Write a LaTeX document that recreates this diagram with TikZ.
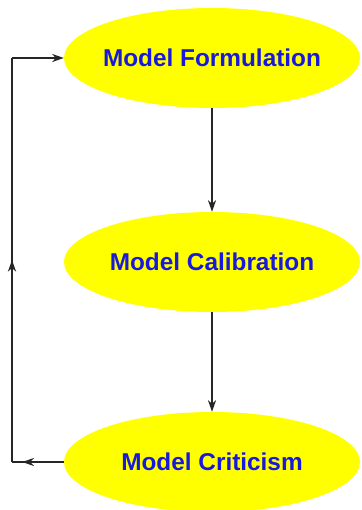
\documentclass[tikz,border=0pt]{standalone}
\usepackage{fontspec}
\setmainfont{Liberation Sans}
\usepackage{xcolor}
\usetikzlibrary{arrows.meta, shapes.geometric, decorations.markings}

\definecolor{stageyellow}{RGB}{255,255,0}
\definecolor{stageblue}{RGB}{25,25,220}

\tikzset{
  stage/.style={ellipse, fill=stageyellow, draw=none, minimum width=296\unitpx, minimum height=100\unitpx,
    inner sep=0pt, label={[stagetext]center:#1}},
  stagetext/.style={text=stageblue, font=\fontsize{20.8}{24}\selectfont\bfseries},
  flow/.style={line width=1.2pt, draw=black!85},
  tip/.style={-{Stealth[length=10pt,width=7pt]}},
  marktip/.style={postaction={decorate}, decoration={markings,
    mark=at position #1 with {\arrow{Stealth[length=10pt,width=7pt]}}}}
}
\newcommand{\unitpx}{*0.03cm}

\begin{document}
\begin{tikzpicture}[x=0.03cm, y=-0.03cm]
\useasboundingbox (0,0) rectangle (361,510);

% Stages
\node[stage=Model Formulation] (form) at (212,58) {};
\node[stage=Model Calibration] (calib) at (212,262) {};
\node[stage=Model Criticism] (crit) at (212,462) {};

% Main flow
\draw[flow, tip] (form.south) -- (calib.north);
\draw[flow, tip] (calib.south) -- (crit.north);

% Feedback loop
\coordinate (loopbot) at (12,462);
\coordinate (looptop) at (12,58);
\draw[flow, marktip=0.8] (crit.west) -- (loopbot);
\draw[flow, marktip=0.5] (loopbot) -- (looptop);
\draw[flow, tip] (looptop) -- (form.west);

\end{tikzpicture}
\end{document}
